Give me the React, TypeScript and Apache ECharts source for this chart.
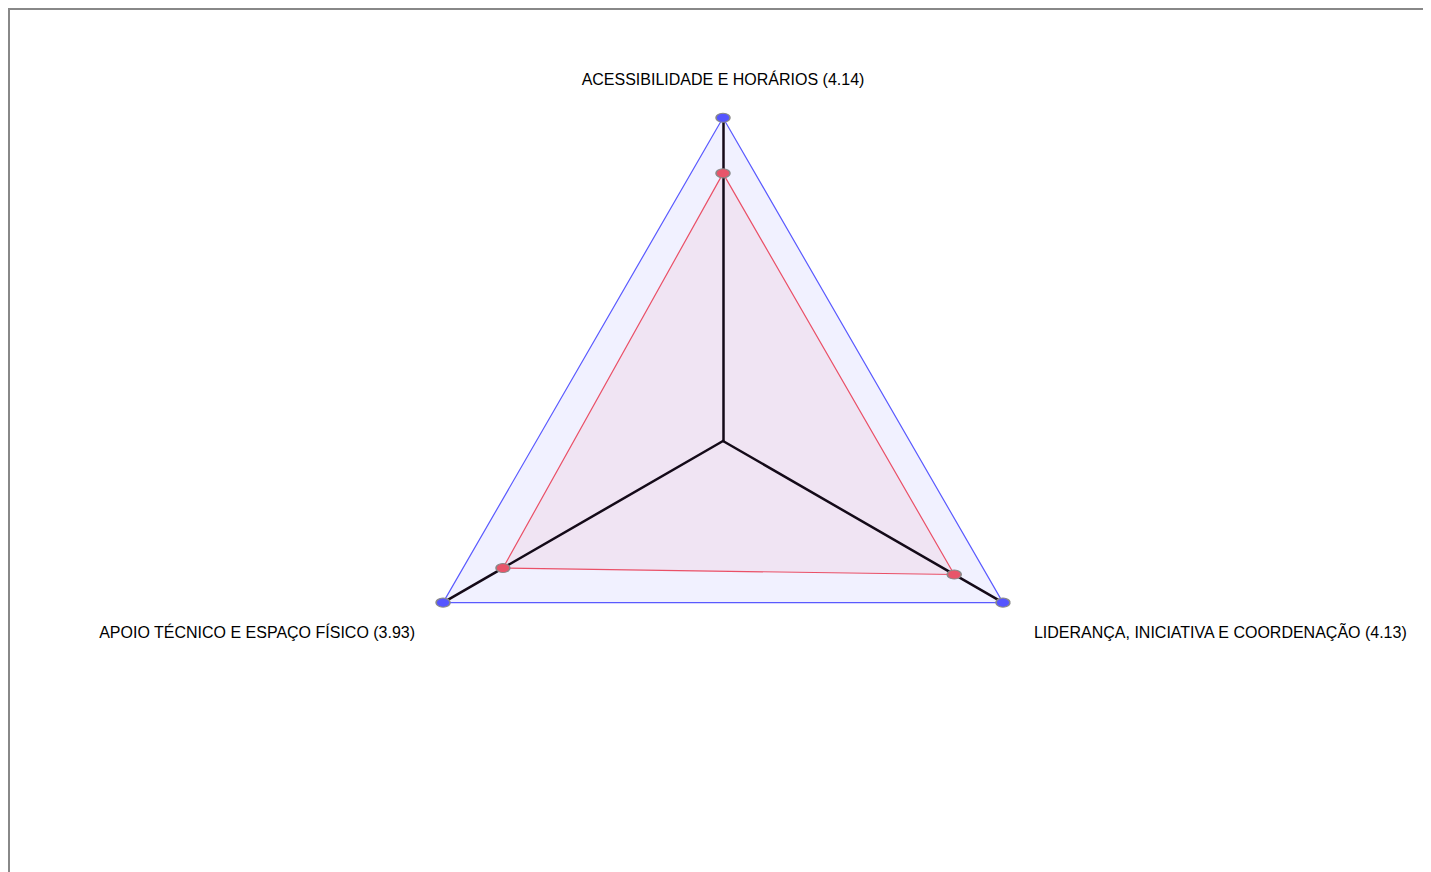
import React, { useEffect, useRef } from "react";
import * as echarts from "echarts";

const indicators = [
  "ACESSIBILIDADE E HORÁRIOS",
  "APOIO TÉCNICO E ESPAÇO FÍSICO",
  "LIDERANÇA, INICIATIVA E COORDENAÇÃO",
];
const scores = [4.14, 3.93, 4.13];
const maxValues = [5, 5, 5];
const maxScale = 5;
const labelStyles = ["t", "l", "r"];

export default function App() {
  const ref = useRef<HTMLDivElement>(null);
  useEffect(() => {
    document.body.style.overflow = "hidden";
    if (!ref.current) return;
    const chart = echarts.init(ref.current, undefined, { renderer: "svg" });
    const names = indicators.map((n, i) => `${n} (${scores[i].toFixed(2)})`);
    const font = {
      color: "#000",
      fontSize: 16,
      fontFamily: "Liberation Sans, Arial, sans-serif",
    };
    chart.setOption({
      animation: false,
      radar: {
        z: 2,
        center: ["50%", "50%"],
        radius: "75%",
        startAngle: 90,
        nameGap: 30,
        indicator: names.map((name) => ({ name, max: maxScale })),
        axisName: {
          ...font,
          formatter: (value: string) => {
            const i = names.indexOf(value);
            return `{${labelStyles[i]}|${value}}`;
          },
          rich: {
            t: { ...font },
            l: { ...font, padding: [30, 2, 0, 0] },
            r: { ...font, padding: [30, 0, 0, 5] },
          },
        },
        axisLine: { lineStyle: { color: "#140a18", width: 2.5 } },
        splitLine: { show: false },
        splitArea: { show: false },
        axisTick: { show: false },
        axisLabel: { show: false },
      },
      series: [
        {
          type: "radar",
          z: 1,
          silent: true,
          symbol: "none",
          data: [
            {
              value: maxValues,
              lineStyle: { width: 0, opacity: 0 },
              areaStyle: { color: "rgba(80,80,255,0.12)" },
            },
            {
              value: scores,
              lineStyle: { width: 0, opacity: 0 },
              areaStyle: { color: "rgba(230,80,110,0.12)" },
            },
          ],
        },
        {
          type: "radar",
          z: 3,
          data: [
            {
              value: maxValues,
              symbol: "circle",
              symbolSize: [14, 9],
              itemStyle: { color: "#5555ff", borderColor: "#8a8a8a", borderWidth: 1.2 },
              lineStyle: { color: "#5a5aff", width: 1.2 },
            },
            {
              value: scores,
              symbol: "circle",
              symbolSize: [14, 9],
              itemStyle: { color: "#e8556a", borderColor: "#8a8a8a", borderWidth: 1.2 },
              lineStyle: { color: "#ea5067", width: 1.2 },
            },
          ],
        },
      ],
    });
    return () => chart.dispose();
  }, []);
  return (
    <div
      style={{ width: 1500, height: 900, border: "2px solid #888", overflow: "hidden" }}
    >
      <div ref={ref} style={{ width: 1426, height: 862 }} />
    </div>
  );
}
